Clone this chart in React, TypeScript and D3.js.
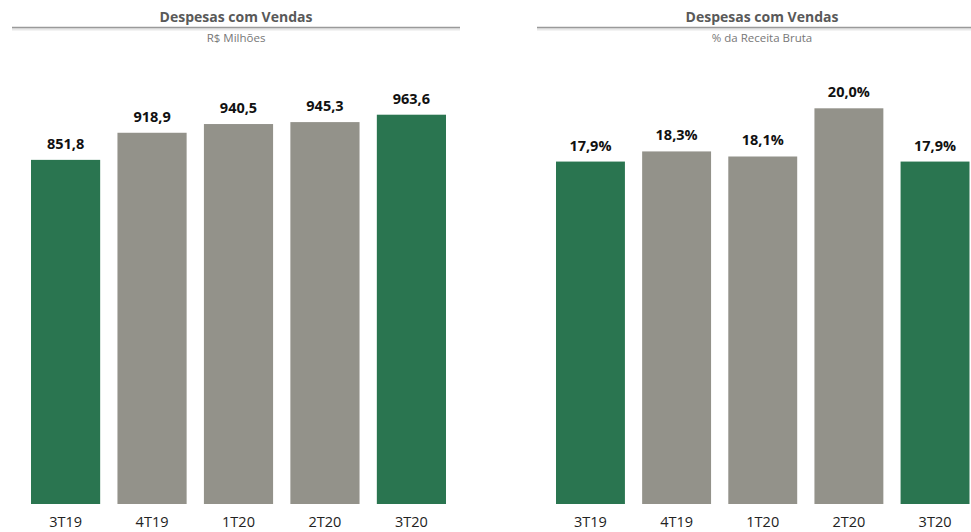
import React from 'react';
import * as d3 from 'd3';

// data
const categories = ['3T19', '4T19', '1T20', '2T20', '3T20'];
const valuesMilhoes = [851.8, 918.9, 940.5, 945.3, 963.6];
const valuesPct = [17.9, 18.3, 18.1, 20.0, 17.9];
const highlighted = [true, false, false, false, true];

const W = 971;
const H = 532;
const GREEN = '#2a7550';
const GRAY = '#93928a';
const FONT = '"Open Sans", "Liberation Sans", sans-serif';

const fmt = (v: number, dec: number) => v.toFixed(dec).replace('.', ',');

type PanelProps = {
  values: number[];
  x0: number;
  x1: number;
  yDomain: [number, number];
  yTop: number;
  title: string;
  subtitle: string;
  titleX: number;
  lineX0: number;
  lineX1: number;
  suffix: string;
};

function Panel(props: PanelProps) {
  const { values, x0, x1, yDomain, yTop, title, subtitle, titleX, lineX0, lineX1, suffix } = props;
  const baseY = 504;

  const x = d3.scaleBand<string>().domain(categories).range([x0, x1]).paddingInner(0.2).paddingOuter(0);
  const y = d3.scaleLinear().domain(yDomain).range([baseY, yTop]);

  return (
    <g>
      <text x={titleX} y={22} textAnchor="middle" fontFamily={FONT} fontWeight="bold" fontSize={14} fill="#595959">
        {title}
      </text>
      <line x1={lineX0} x2={lineX1} y1={29} y2={29} stroke="#e8e8e8" strokeWidth={3} />
      <line x1={lineX0} x2={lineX1} y1={27.5} y2={27.5} stroke="#9a9a9a" strokeWidth={1.5} />
      <text x={titleX} y={42} textAnchor="middle" fontFamily={FONT} fontSize={11.5} fill="#777">
        {subtitle}
      </text>

      {categories.map((c, i) => {
        const v = values[i];
        const bx = x(c) as number;
        const top = y(v);
        return (
          <g key={c}>
            <rect x={bx} y={top} width={x.bandwidth()} height={baseY - top} fill={highlighted[i] ? GREEN : GRAY} />
            <text
              x={bx + x.bandwidth() / 2}
              y={top - 11}
              textAnchor="middle"
              fontFamily={FONT}
              fontWeight="bold"
              fontSize={14.5}
              fill="#111"
            >
              {fmt(v, 1) + suffix}
            </text>
            <text
              x={bx + x.bandwidth() / 2}
              y={527}
              textAnchor="middle"
              fontFamily={FONT}
              fontSize={14.5}
              fill="#222"
            >
              {c}
            </text>
          </g>
        );
      })}
    </g>
  );
}

export default function App() {
  return (
    <svg width={W} height={H} style={{ position: 'absolute', left: 0, top: 0, background: '#fff' }}>
      <Panel
        values={valuesMilhoes}
        x0={31}
        x1={446}
        yDomain={[0, 1000]}
        yTop={504 - 404}
        title="Despesas com Vendas"
        subtitle="R$ Milhões"
        titleX={236}
        lineX0={12}
        lineX1={460}
        suffix=""
      />
      <Panel
        values={valuesPct}
        x0={556}
        x1={969.5}
        yDomain={[4.4, 20]}
        yTop={108.3}
        title="Despesas com Vendas"
        subtitle="% da Receita Bruta"
        titleX={762}
        lineX0={537}
        lineX1={971}
        suffix="%"
      />
    </svg>
  );
}
